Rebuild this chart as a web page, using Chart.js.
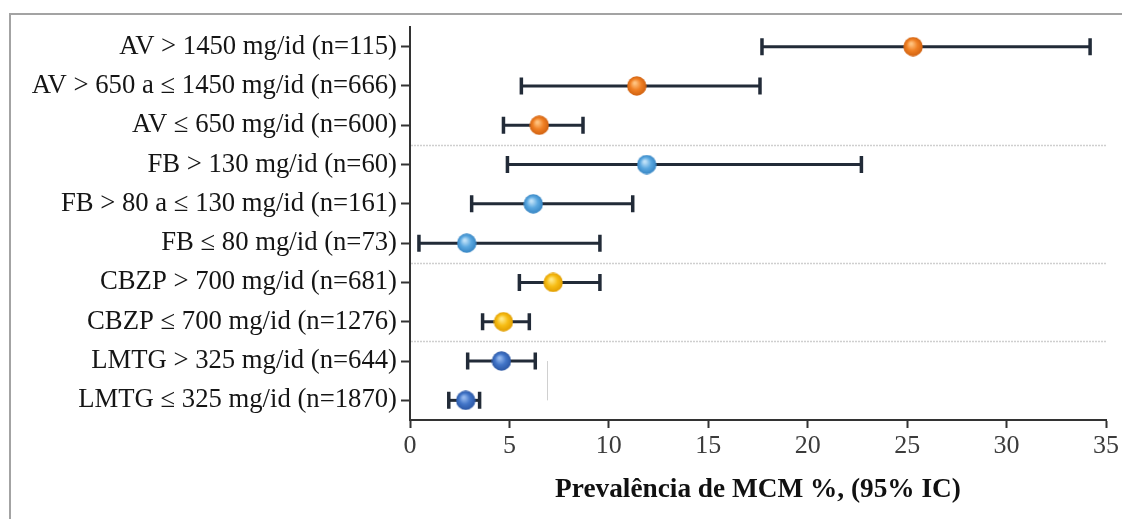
<!DOCTYPE html>
<html>
<head>
<meta charset="utf-8">
<script src="https://cdn.jsdelivr.net/npm/chart.js@4"></script>
<style>
  html, body { margin: 0; padding: 0; background: #fff; overflow: hidden; }
  #wrap { position: absolute; left: 0; top: 0; width: 1122px; height: 519px; }
  #frame { position: absolute; left: 9px; top: 13px; right: 0; bottom: 0;
           border-top: 2px solid #a3a3a3; border-left: 2px solid #a3a3a3; }
</style>
</head>
<body>
<div id="frame"></div>
<div id="wrap"><canvas id="forestChart"></canvas></div>
<script>
// categories (top to bottom) and the estimates with their 95% CI
const categories = [
  'AV > 1450 mg/id (n=115)',
  'AV > 650 a ≤ 1450 mg/id (n=666)',
  'AV ≤ 650 mg/id (n=600)',
  'FB > 130 mg/id (n=60)',
  'FB > 80 a ≤ 130 mg/id (n=161)',
  'FB ≤ 80 mg/id (n=73)',
  'CBZP > 700 mg/id (n=681)',
  'CBZP ≤ 700 mg/id (n=1276)',
  'LMTG > 325 mg/id (n=644)',
  'LMTG ≤ 325 mg/id (n=1870)'
];
const prevalence = [25.3, 11.4, 6.5, 11.9, 6.2, 2.85, 7.2, 4.7, 4.6, 2.8];
const ciLower    = [17.7, 5.6, 4.7, 4.9, 3.1, 0.45, 5.5, 3.65, 2.9, 1.95];
const ciUpper    = [34.2, 17.6, 8.7, 22.7, 11.2, 9.55, 9.55, 6.0, 6.3, 3.5];
const drugGroup  = ['AV', 'AV', 'AV', 'FB', 'FB', 'FB', 'CBZP', 'CBZP', 'LMTG', 'LMTG'];
const groupBreaks = [2.5, 5.5, 7.5];
const xTickValues = [0, 5, 10, 15, 20, 25, 30, 35];

// stray vertical mark seen in the original figure
const strayMark = { x: 6.9, from: 8, to: 9 };

const groupColors = {
  AV:   { light: '#ffc27e', base: '#f08024', dark: '#cf600f' },
  FB:   { light: '#bfe1f8', base: '#5ba8e0', dark: '#3483c2' },
  CBZP: { light: '#ffe987', base: '#f7bd14', dark: '#e09c00' },
  LMTG: { light: '#94b8ee', base: '#4275c8', dark: '#2a55a2' }
};

function makeBall(c) {
  const r = 10;
  const cv = document.createElement('canvas');
  cv.width = r * 2; cv.height = r * 2;
  const g = cv.getContext('2d');
  const grad = g.createRadialGradient(r - 2, r - 3, 1, r, r, r);
  grad.addColorStop(0, c.light);
  grad.addColorStop(0.5, c.base);
  grad.addColorStop(1, c.dark);
  g.fillStyle = grad;
  g.beginPath();
  g.arc(r, r, r - 0.3, 0, Math.PI * 2);
  g.fill();
  return cv;
}
const balls = {};
Object.keys(groupColors).forEach(k => { balls[k] = makeBall(groupColors[k]); });

const serif = '"Liberation Serif", "Times New Roman", serif';

const forestPlugin = {
  id: 'forest',
  beforeDatasetsDraw(chart) {
    const { ctx, chartArea, scales } = chart;
    const xs = scales.x, ys = scales.y;
    ctx.save();
    // group separators
    ctx.strokeStyle = '#cfcfcf';
    ctx.lineWidth = 1.5;
    ctx.setLineDash([2, 1]);
    groupBreaks.forEach(b => {
      const y = Math.round(ys.getPixelForValue(b)) + 0.5;
      ctx.beginPath();
      ctx.moveTo(chartArea.left + 1, y);
      ctx.lineTo(chartArea.right, y);
      ctx.stroke();
    });
    ctx.setLineDash([]);
    // stray mark
    ctx.strokeStyle = '#d0d0d0';
    ctx.lineWidth = 1;
    const sx = Math.round(xs.getPixelForValue(strayMark.x)) + 0.5;
    ctx.beginPath();
    ctx.moveTo(sx, ys.getPixelForValue(strayMark.from));
    ctx.lineTo(sx, ys.getPixelForValue(strayMark.to));
    ctx.stroke();
    // error bars
    ctx.strokeStyle = '#222b38';
    ctx.lineWidth = 3;
    for (let i = 0; i < categories.length; i++) {
      const y = ys.getPixelForValue(i);
      const x0 = xs.getPixelForValue(ciLower[i]);
      const x1 = xs.getPixelForValue(ciUpper[i]);
      ctx.beginPath();
      ctx.moveTo(x0, y); ctx.lineTo(x1, y);
      ctx.stroke();
      ctx.lineWidth = 3.5;
      ctx.beginPath();
      ctx.moveTo(x0, y - 8.5); ctx.lineTo(x0, y + 8.5);
      ctx.moveTo(x1, y - 8.5); ctx.lineTo(x1, y + 8.5);
      ctx.stroke();
      ctx.lineWidth = 3;
    }
    ctx.restore();
  }
};

const chart = new Chart(document.getElementById('forestChart'), {
  type: 'scatter',
  data: {
    datasets: [{
      data: prevalence.map((v, i) => ({ x: v, y: i })),
      pointStyle: prevalence.map((v, i) => balls[drugGroup[i]]),
      pointRadius: 10
    }]
  },
  options: {
    responsive: true,
    maintainAspectRatio: false,
    animation: false,
    layout: { padding: { top: 27, right: 16, bottom: 0, left: 0 } },
    plugins: { legend: { display: false }, tooltip: { enabled: false } },
    scales: {
      x: {
        type: 'linear',
        min: 0,
        max: 35,
        afterBuildTicks(scale) { scale.ticks = xTickValues.map(v => ({ value: v })); },
        afterFit(scale) { scale.height = 99; },
        grid: { drawOnChartArea: false, tickLength: 8, tickColor: '#333', tickWidth: 2 },
        border: { color: '#333', width: 2 },
        ticks: { color: '#3c3c3c', padding: 3, font: { family: serif, size: 26 } },
        title: {
          display: true,
          text: 'Prevalência de MCM %, (95% IC)',
          color: '#111',
          padding: { top: 0, bottom: 13 },
          font: { family: serif, size: 27.3, weight: 'bold' }
        }
      },
      y: {
        type: 'category',
        labels: categories,
        offset: true,
        afterFit(scale) { scale.width = 410; },
        grid: { drawOnChartArea: false, tickLength: 9, tickColor: '#333', tickWidth: 2, offset: false },
        border: { color: '#333', width: 2 },
        ticks: { color: '#151515', padding: 4, font: { family: serif, size: 26.7 } }
      }
    }
  },
  plugins: [forestPlugin]
});
</script>
</body>
</html>
